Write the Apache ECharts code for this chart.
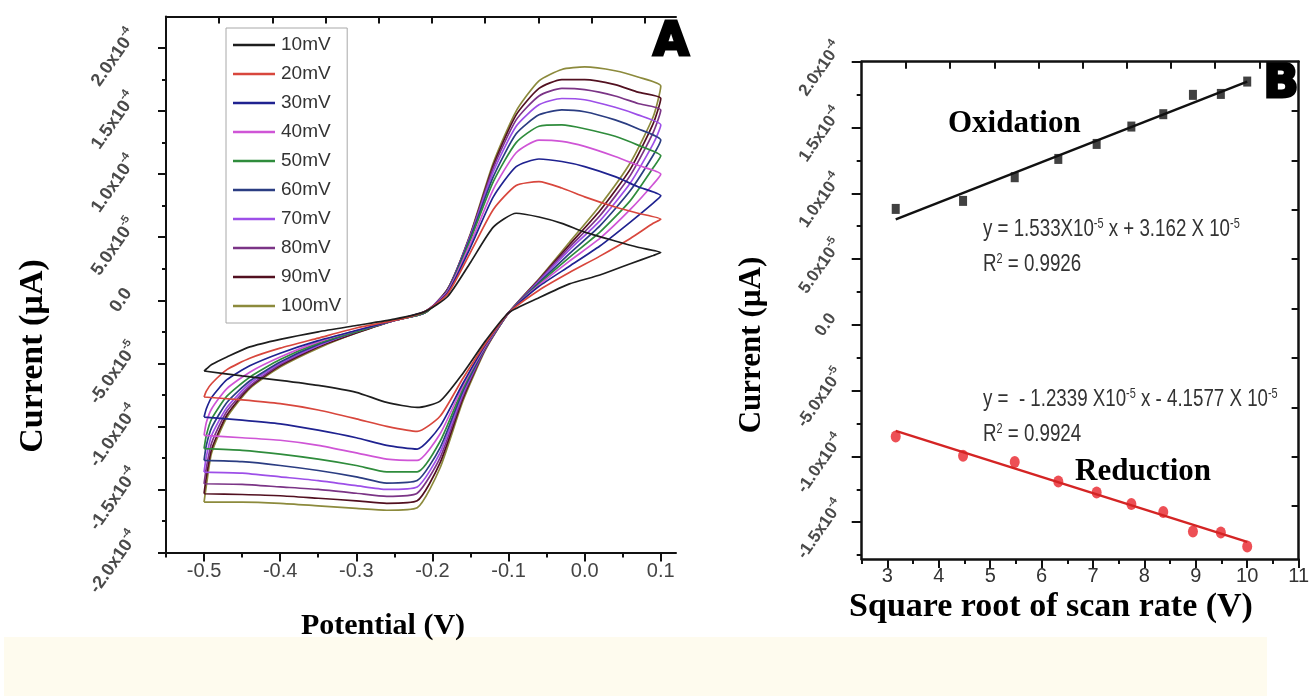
<!DOCTYPE html>
<html>
<head>
<meta charset="utf-8">
<script src="https://cdn.jsdelivr.net/npm/echarts@6/dist/echarts.min.js"></script>
<style>
  html, body { margin: 0; padding: 0; background: #fff; }
  #chart { width: 1312px; height: 696px; }
</style>
</head>
<body>
<div id="chart"></div>
<script>
// ---------- Panel A: cyclic voltammograms (current in units of 1e-4 A) ----------
const SCAN_RATES = ['10mV', '20mV', '30mV', '40mV', '50mV', '60mV', '70mV', '80mV', '90mV', '100mV'];
const SCAN_COLORS = ['#1e1e1e', '#d8473d', '#1f2290', '#cf55d6', '#2f8c3c', '#2b3d82', '#9d4fe8', '#7b3486', '#521020', '#8c8a3c'];

// forward (anodic) sweep potentials, V
const FWD_V = [-0.5, -0.497, -0.49, -0.47, -0.44, -0.40, -0.35, -0.30, -0.25, -0.21, -0.18, -0.15, -0.12, -0.09, -0.06, -0.03, 0.0, 0.04, 0.07, 0.10];
// reverse (cathodic) sweep potentials, V
const REV_V = [0.09, 0.06, 0.02, -0.02, -0.06, -0.10, -0.13, -0.16, -0.19, -0.22, -0.26, -0.30, -0.35, -0.40, -0.45, -0.5];

const fwd10  = [-0.561, -0.545, -0.51, -0.45, -0.37, -0.31, -0.25, -0.20, -0.15, -0.09, 0.03, 0.30, 0.58, 0.69, 0.66, 0.61, 0.54, 0.47, 0.42, 0.378];
const rev10  = [0.355, 0.29, 0.20, 0.13, 0.02, -0.10, -0.32, -0.58, -0.80, -0.85, -0.81, -0.73, -0.675, -0.635, -0.60, -0.561];
const fwd20  = [-0.767, -0.72, -0.66, -0.55, -0.46, -0.38, -0.30, -0.22, -0.16, -0.09, 0.05, 0.38, 0.72, 0.91, 0.94, 0.89, 0.82, 0.74, 0.69, 0.643];
const rev20  = [0.61, 0.49, 0.35, 0.22, 0.08, -0.10, -0.34, -0.62, -0.92, -1.04, -1.00, -0.94, -0.87, -0.82, -0.79, -0.767];
const fwd30  = [-0.926, -0.86, -0.77, -0.63, -0.52, -0.42, -0.32, -0.24, -0.16, -0.09, 0.06, 0.42, 0.82, 1.06, 1.12, 1.10, 1.06, 0.98, 0.90, 0.828];
const rev30  = [0.77, 0.62, 0.43, 0.27, 0.11, -0.10, -0.35, -0.66, -1.00, -1.18, -1.15, -1.09, -1.03, -0.98, -0.95, -0.926];
const fwd40  = [-1.071, -0.97, -0.86, -0.70, -0.57, -0.45, -0.33, -0.24, -0.16, -0.09, 0.07, 0.45, 0.88, 1.17, 1.27, 1.26, 1.22, 1.14, 1.07, 1.00];
const rev40  = [0.92, 0.72, 0.49, 0.31, 0.12, -0.10, -0.36, -0.68, -1.06, -1.27, -1.26, -1.21, -1.15, -1.11, -1.09, -1.071];
const fwd50  = [-1.177, -1.07, -0.94, -0.76, -0.61, -0.47, -0.34, -0.25, -0.16, -0.10, 0.07, 0.48, 0.94, 1.25, 1.38, 1.39, 1.36, 1.30, 1.23, 1.145];
const rev50  = [1.05, 0.79, 0.54, 0.34, 0.13, -0.10, -0.36, -0.70, -1.12, -1.36, -1.36, -1.31, -1.26, -1.22, -1.19, -1.177];
const fwd60  = [-1.27, -1.15, -1.01, -0.81, -0.64, -0.49, -0.35, -0.25, -0.16, -0.10, 0.08, 0.50, 0.98, 1.32, 1.47, 1.51, 1.495, 1.43, 1.36, 1.27];
const rev60  = [1.15, 0.87, 0.59, 0.37, 0.14, -0.10, -0.37, -0.72, -1.17, -1.43, -1.45, -1.40, -1.35, -1.31, -1.28, -1.27];
const fwd70  = [-1.362, -1.24, -1.07, -0.85, -0.66, -0.50, -0.36, -0.25, -0.16, -0.10, 0.08, 0.51, 1.02, 1.38, 1.55, 1.60, 1.59, 1.53, 1.47, 1.39];
const rev70  = [1.24, 0.93, 0.63, 0.40, 0.15, -0.10, -0.37, -0.74, -1.21, -1.48, -1.50, -1.47, -1.43, -1.40, -1.37, -1.362];
const fwd80  = [-1.455, -1.33, -1.13, -0.88, -0.68, -0.51, -0.36, -0.25, -0.16, -0.10, 0.08, 0.52, 1.05, 1.43, 1.62, 1.68, 1.67, 1.62, 1.56, 1.508];
const rev80  = [1.33, 0.99, 0.67, 0.42, 0.16, -0.10, -0.38, -0.76, -1.25, -1.53, -1.555, -1.53, -1.50, -1.48, -1.46, -1.455];
const fwd90  = [-1.534, -1.40, -1.18, -0.91, -0.69, -0.52, -0.37, -0.26, -0.16, -0.10, 0.09, 0.52, 1.07, 1.47, 1.68, 1.75, 1.75, 1.71, 1.65, 1.60];
const rev90  = [1.40, 1.04, 0.71, 0.44, 0.165, -0.10, -0.38, -0.78, -1.29, -1.59, -1.61, -1.59, -1.57, -1.55, -1.54, -1.534];
const fwd100 = [-1.60, -1.47, -1.21, -0.93, -0.70, -0.53, -0.38, -0.26, -0.16, -0.10, 0.09, 0.53, 1.09, 1.50, 1.74, 1.83, 1.85, 1.82, 1.77, 1.698];
const rev100 = [1.455, 1.09, 0.75, 0.46, 0.17, -0.10, -0.39, -0.80, -1.33, -1.645, -1.665, -1.65, -1.63, -1.61, -1.60, -1.60];

const FWD_CURRENTS = [fwd10, fwd20, fwd30, fwd40, fwd50, fwd60, fwd70, fwd80, fwd90, fwd100];
const REV_CURRENTS = [rev10, rev20, rev30, rev40, rev50, rev60, rev70, rev80, rev90, rev100];

// ---------- Panel B: peak current vs square root of scan rate ----------
const SQRT_RATE = [3.162, 4.472, 5.477, 6.325, 7.071, 7.746, 8.367, 8.944, 9.487, 10.0];
const OX_PEAK = [0.881, 0.942, 1.122, 1.261, 1.375, 1.507, 1.601, 1.748, 1.755, 1.849];
const RED_PEAK = [-0.849, -0.995, -1.043, -1.191, -1.274, -1.362, -1.423, -1.571, -1.578, -1.685];
// linear fits: slope and intercept in units of 1e-5
const OX_FIT = { slope: 1.533, intercept: 3.162, r2: '0.9926' };
const RED_FIT = { slope: -1.2339, intercept: -4.1577, r2: '0.9924' };

// ---------- tick values and labels ----------
const A_X_MAJOR = [-0.5, -0.4, -0.3, -0.2, -0.1, 0.0, 0.1];
const A_X_MINOR = [-0.55, -0.45, -0.35, -0.25, -0.15, -0.05, 0.05];
const CUR_TICKS = [-2, -1.5, -1, -0.5, 0, 0.5, 1, 1.5, 2];
const CUR_MANTISSA = ['-2.0x10', '-1.5x10', '-1.0x10', '-5.0x10', '0.0', '5.0x10', '1.0x10', '1.5x10', '2.0x10'];
const CUR_EXPONENT = ['-4', '-4', '-4', '-5', '', '-5', '-4', '-4', '-4'];
const CUR_MINOR = [-1.75, -1.25, -0.75, -0.25, 0.25, 0.75, 1.25, 1.75];
const B_Y_MAJOR = [-1.5, -1, -0.5, 0, 0.5, 1, 1.5, 2];
const B_X_MAJOR = [3, 4, 5, 6, 7, 8, 9, 10, 11];
const B_X_MINOR = [2.5, 3.5, 4.5, 5.5, 6.5, 7.5, 8.5, 9.5, 10.5];
const FRAME_TICKS = [1, 2, 3, 4, 5, 6, 7, 8, 9];

// ---------- helpers ----------
const SANS = '"Liberation Sans", Arial, sans-serif';
const SERIF = '"Liberation Serif", "Times New Roman", serif';

function currentLabel(v) {
  const i = CUR_TICKS.findIndex(t => Math.abs(t - v) < 1e-9);
  if (i < 0) return '';
  return CUR_EXPONENT[i] ? '{m|' + CUR_MANTISSA[i] + '}{s|' + CUR_EXPONENT[i] + '}' : '{m|' + CUR_MANTISSA[i] + '}';
}
// rotated current labels; the trailing pad on the exponent slides long labels down along their baseline
function labelRich(size, pad) {
  return {
    m: { fontSize: size, fontWeight: 'bold', color: '#4a4a4a', fontFamily: SANS, lineHeight: size + 6 },
    s: { fontSize: Math.round(size * 0.62), fontWeight: 'bold', color: '#4a4a4a', fontFamily: SANS, verticalAlign: 'top', lineHeight: Math.round(size * 0.62), padding: [0, pad, 0, 0] }
  };
}
function fitValue(fit, x) { return (fit.slope * x + fit.intercept) / 10; }
function eqText(fit) {
  if (fit.slope >= 0) {
    return 'y = ' + fit.slope + 'X10{s|-5} x + ' + fit.intercept + ' X 10{s|-5}';
  }
  return 'y =  - ' + Math.abs(fit.slope) + ' X10{s|-5} x - ' + Math.abs(fit.intercept) + ' X 10{s|-5}';
}

const axisBlack = { color: '#111', width: 2 };
const hidden = { show: false };
const eqRich = { s: { fontSize: 14, fontFamily: SANS, fill: '#333', verticalAlign: 'top', lineHeight: 12 } };

const cvSeries = SCAN_RATES.map((name, k) => ({
  name: name,
  type: 'line',
  xAxisIndex: 0,
  yAxisIndex: 0,
  showSymbol: false,
  smooth: 0.2,
  z: 3 + (10 - k) * 0.01,
  color: SCAN_COLORS[k],
  lineStyle: { width: 1.7, color: SCAN_COLORS[k] },
  data: FWD_V.map((v, i) => [v, FWD_CURRENTS[k][i]]).concat(REV_V.map((v, i) => [v, REV_CURRENTS[k][i]]))
}));

const xFirst = SQRT_RATE[0], xLast = SQRT_RATE[SQRT_RATE.length - 1];

const option = {
  animation: false,
  backgroundColor: '#fff',
  grid: [
    { left: 166, top: 16.5, width: 510, height: 536 },
    { left: 861.7, top: 61.7, width: 441, height: 497.3 }
  ],
  xAxis: [
    { // A: potential axis
      type: 'value', gridIndex: 0, position: 'bottom', min: -0.55, max: 0.12,
      axisLine: { onZero: false, lineStyle: axisBlack },
      axisTick: { customValues: A_X_MAJOR, length: 9, lineStyle: { color: '#111', width: 2 } },
      axisLabel: { customValues: A_X_MAJOR, margin: 9, formatter: v => v.toFixed(1), fontSize: 20, color: '#444', fontFamily: SANS },
      splitLine: hidden
    },
    { // A: minor ticks
      type: 'value', gridIndex: 0, position: 'bottom', min: -0.55, max: 0.12,
      axisLine: { show: false, onZero: false },
      axisTick: { customValues: A_X_MINOR, length: 5, lineStyle: { color: '#111', width: 2 } },
      axisLabel: hidden, splitLine: hidden
    },
    { // A: top frame
      type: 'value', gridIndex: 0, position: 'top', min: 0, max: 9.587,
      axisLine: { onZero: false, lineStyle: axisBlack },
      axisTick: { customValues: FRAME_TICKS, inside: true, length: 7, lineStyle: { color: '#111', width: 2 } },
      axisLabel: hidden, splitLine: hidden
    },
    { // B: sqrt scan rate axis
      type: 'value', gridIndex: 1, position: 'bottom', min: 2.5, max: 11,
      axisLine: { onZero: false, lineStyle: { color: '#111', width: 2.5 } },
      axisTick: { customValues: B_X_MAJOR, length: 9, lineStyle: { color: '#111', width: 2 } },
      axisLabel: { customValues: B_X_MAJOR, margin: 7, fontSize: 20, color: '#333', fontFamily: SANS },
      splitLine: hidden
    },
    { // B: minor ticks
      type: 'value', gridIndex: 1, position: 'bottom', min: 2.5, max: 11,
      axisLine: { show: false, onZero: false },
      axisTick: { customValues: B_X_MINOR, length: 5, lineStyle: { color: '#111', width: 2 } },
      axisLabel: hidden, splitLine: hidden
    },
    { // B: top frame
      type: 'value', gridIndex: 1, position: 'top', min: 0, max: 9.888,
      axisLine: { onZero: false, lineStyle: { color: '#111', width: 2.5 } },
      axisTick: { customValues: FRAME_TICKS, inside: true, length: 7, lineStyle: { color: '#111', width: 2 } },
      axisLabel: hidden, splitLine: hidden
    }
  ],
  yAxis: [
    { // A: current axis
      type: 'value', gridIndex: 0, position: 'left', min: -2, max: 2.25,
      axisLine: { onZero: false, lineStyle: axisBlack },
      axisTick: { customValues: CUR_TICKS, length: 8, lineStyle: { color: '#111', width: 2 } },
      axisLabel: { customValues: CUR_TICKS, formatter: currentLabel, rich: labelRich(18, 24), rotate: 55, align: 'center', verticalAlign: 'middle', margin: 45 },
      splitLine: hidden
    },
    { // A: minor ticks
      type: 'value', gridIndex: 0, position: 'left', min: -2, max: 2.25,
      axisLine: { show: false, onZero: false },
      axisTick: { customValues: CUR_MINOR, length: 4, lineStyle: { color: '#111', width: 2 } },
      axisLabel: hidden, splitLine: hidden
    },
    { // B: current axis
      type: 'value', gridIndex: 1, position: 'left', min: -1.78, max: 2,
      axisLine: { onZero: false, lineStyle: { color: '#111', width: 2.5 } },
      axisTick: { customValues: B_Y_MAJOR, length: 10, lineStyle: { color: '#111', width: 2 } },
      axisLabel: { customValues: B_Y_MAJOR, formatter: currentLabel, rich: labelRich(17, 18), rotate: 55, align: 'center', verticalAlign: 'middle', margin: 36 },
      splitLine: hidden
    },
    { // B: minor ticks
      type: 'value', gridIndex: 1, position: 'left', min: -1.78, max: 2,
      axisLine: { show: false, onZero: false },
      axisTick: { customValues: CUR_MINOR, length: 5, lineStyle: { color: '#111', width: 2 } },
      axisLabel: hidden, splitLine: hidden
    },
    { // B: right frame
      type: 'value', gridIndex: 1, position: 'right', inverse: true, min: 0, max: 10.07,
      axisLine: { onZero: false, lineStyle: { color: '#111', width: 2.5 } },
      axisTick: { customValues: FRAME_TICKS, inside: true, length: 7, lineStyle: { color: '#111', width: 2 } },
      axisLabel: hidden, splitLine: hidden
    }
  ],
  legend: {
    data: SCAN_RATES,
    orient: 'vertical',
    left: 226, top: 28,
    padding: [7, 6, 7, 7],
    itemGap: 9,
    itemWidth: 42, itemHeight: 2.5,
    icon: 'rect',
    borderColor: '#a8a8a8', borderWidth: 1,
    backgroundColor: '#fff',
    textStyle: { fontSize: 19, lineHeight: 20, color: '#333', fontFamily: SANS, padding: [0, 0, 0, 1] }
  },
  series: cvSeries.concat([
    {
      name: 'Oxidation fit', type: 'line', xAxisIndex: 3, yAxisIndex: 2, showSymbol: false,
      lineStyle: { color: '#111', width: 2.5 },
      data: [[xFirst, fitValue(OX_FIT, xFirst)], [xLast, fitValue(OX_FIT, xLast)]]
    },
    {
      name: 'Oxidation', type: 'scatter', xAxisIndex: 3, yAxisIndex: 2,
      symbol: 'rect', symbolSize: [8, 10], itemStyle: { color: '#111' },
      data: SQRT_RATE.map((x, i) => [x, OX_PEAK[i]])
    },
    {
      name: 'Reduction fit', type: 'line', xAxisIndex: 3, yAxisIndex: 2, showSymbol: false,
      lineStyle: { color: '#d42424', width: 2.5 },
      data: [[xFirst, fitValue(RED_FIT, xFirst)], [xLast, fitValue(RED_FIT, xLast)]]
    },
    {
      name: 'Reduction', type: 'scatter', xAxisIndex: 3, yAxisIndex: 2,
      symbol: 'circle', symbolSize: [10, 12], itemStyle: { color: '#e8232b' },
      data: SQRT_RATE.map((x, i) => [x, RED_PEAK[i]])
    }
  ]),
  graphic: [
    { type: 'rect', shape: { x: 4, y: 637, width: 1263, height: 59 }, style: { fill: '#fefbee' }, z: 0 },
    { type: 'text', x: 33, y: 356, rotation: Math.PI / 2, style: { text: 'Current (µA)', font: 'bold 34px ' + SERIF, fill: '#000', textAlign: 'center', textVerticalAlign: 'middle' } },
    { type: 'text', x: 383, y: 626, style: { text: 'Potential (V)', font: 'bold 30px ' + SERIF, fill: '#000', textAlign: 'center', textVerticalAlign: 'middle' } },
    { type: 'text', x: 752, y: 345, rotation: Math.PI / 2, style: { text: 'Current (µA)', font: 'bold 31px ' + SERIF, fill: '#000', textAlign: 'center', textVerticalAlign: 'middle' } },
    { type: 'text', x: 1051, y: 607, style: { text: 'Square root of scan rate (V)', font: 'bold 34px ' + SERIF, fill: '#000', textAlign: 'center', textVerticalAlign: 'middle' } },
    { type: 'text', x: 671, y: 43, style: { text: 'A', font: '900 46px "DejaVu Sans", sans-serif', fill: '#000', stroke: '#000', lineWidth: 3, textAlign: 'center', textVerticalAlign: 'middle' } },
    { type: 'text', x: 1281, y: 85, style: { text: 'B', font: '900 46px "DejaVu Sans", sans-serif', fill: '#000', stroke: '#000', lineWidth: 3, textAlign: 'center', textVerticalAlign: 'middle' } },
    { type: 'text', x: 948, y: 124, style: { text: 'Oxidation', font: 'bold 31px ' + SERIF, fill: '#000', textAlign: 'left', textVerticalAlign: 'middle' } },
    { type: 'text', x: 1075, y: 472, style: { text: 'Reduction', font: 'bold 31px ' + SERIF, fill: '#000', textAlign: 'left', textVerticalAlign: 'middle' } },
    { type: 'text', x: 983, y: 229, scaleX: 0.78, style: { text: eqText(OX_FIT), font: '24px ' + SANS, fill: '#333', textVerticalAlign: 'middle', rich: eqRich } },
    { type: 'text', x: 983, y: 264, scaleX: 0.78, style: { text: 'R{s|2} = ' + OX_FIT.r2, font: '24px ' + SANS, fill: '#333', textVerticalAlign: 'middle', rich: eqRich } },
    { type: 'text', x: 983, y: 399, scaleX: 0.78, style: { text: eqText(RED_FIT), font: '24px ' + SANS, fill: '#333', textVerticalAlign: 'middle', rich: eqRich } },
    { type: 'text', x: 983, y: 434, scaleX: 0.78, style: { text: 'R{s|2} = ' + RED_FIT.r2, font: '24px ' + SANS, fill: '#333', textVerticalAlign: 'middle', rich: eqRich } }
  ]
};

const chart = echarts.init(document.getElementById('chart'), null, { renderer: 'canvas' });
chart.setOption(option);
</script>
</body>
</html>
